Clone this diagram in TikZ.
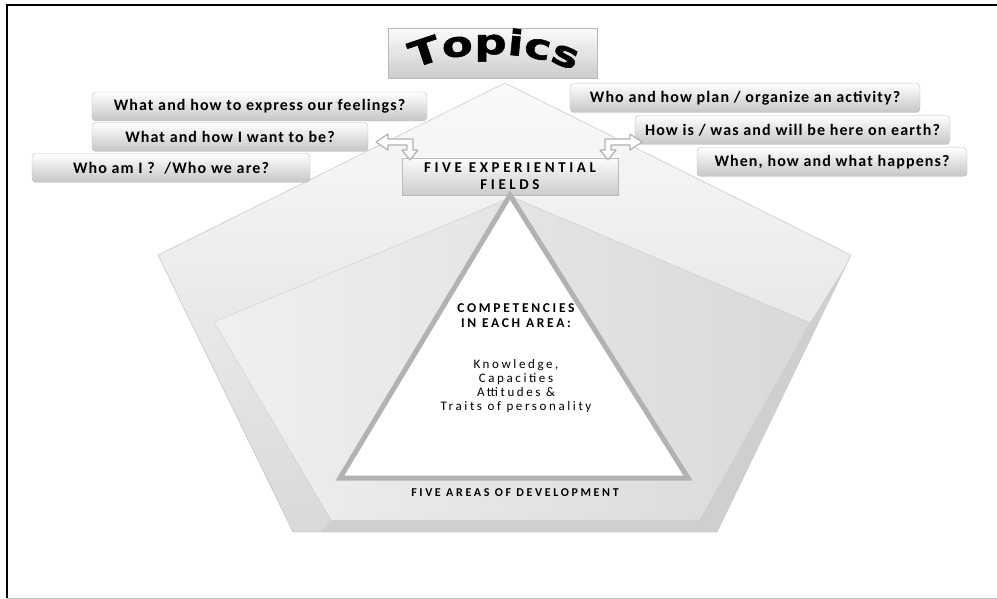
\documentclass[tikz,border=0pt]{standalone}
\usepackage{fontspec}
\setmainfont{Carlito}
\newfontfamily\topicsfont[FakeStretch=1.3, FakeBold=1.5]{DejaVu Sans}
\usetikzlibrary{positioning,decorations.text}

\tikzset{bentarrow/.pic={
	\draw[gray!60, fill=white, line width=1.2pt, line join=round] (-34,0) -- (-22,-8) -- (-22,-3) -- (3,-3) -- (3,8) -- (8,8) -- (0,18) -- (-8,8) -- (-3,8) -- (-3,3) -- (-22,3) -- (-22,8) -- cycle;
}}

\begin{document}
\begin{tikzpicture}[x=1pt, y=-1pt,
	qbox/.style={draw=gray!55, rounded corners=4pt, top color=white, bottom color=gray!45, minimum height=29pt, inner sep=0pt, font=\fontsize{16}{16}\selectfont\bfseries\addfontfeatures{LetterSpace=7}},
	hbox/.style={draw=gray!55, top color=gray!3, bottom color=gray!40, inner sep=0pt}]
	\useasboundingbox (0,0) rectangle (997,599);
	\draw[line width=1.5pt] (7,598) -- (7,5) -- (997,5);
	\draw[gray!50] (7,598) -- (997,598);
	
	% the pentagon
	\draw[gray!55, top color=gray!4, bottom color=gray!30] (505,83) -- (851,255) -- (717,532) -- (293,532) -- (158,255) -- cycle;
	\fill[gray!38] (810,323) -- (848,262) -- (717,532) -- (320,532) -- (331,520) -- (700,520) -- cycle;
	\draw[gray!40, left color=gray!12, right color=gray!30] (512,197) -- (810,323) -- (700,520) -- (331,520) -- (214,322) -- cycle;
	
	\node[hbox, minimum width=209pt, minimum height=50pt](topics) at (492.5,53) {};
	\path[decorate, decoration={text along path, text align=center,
		text={|\fontsize{35}{35}\selectfont\topicsfont\bfseries|Topics}}]
		(400,78) .. controls (440,46) and (545,46) .. (588,80);
	
	\node[hbox, minimum width=216pt, minimum height=37pt, align=center, font=\fontsize{15}{17}\selectfont\bfseries\addfontfeatures{LetterSpace=24}](fields) at (510,176.5) {FIVE EXPERIENTIAL\\FIELDS};
	
	\draw[gray!60, fill=white, line width=5pt, line join=miter] (fields.south) -- (688,478) -- (340,478) -- cycle;
	\node[align=center, font=\fontsize{13.5}{15}\selectfont\bfseries\addfontfeatures{LetterSpace=20}](comp) at (516,315.5) {COMPETENCIES\\IN EACH AREA:};
	\node[align=center, font=\fontsize{13}{14}\selectfont\addfontfeatures{LetterSpace=20}](traits) at (516,386) {Knowledge,\\Capacities\\Attitudes \&\\Traits of personality};
	\node[font=\fontsize{12}{12}\selectfont\bfseries\addfontfeatures{LetterSpace=22}](areas) at (515,493) {FIVE AREAS OF DEVELOPMENT};
	
	% left questions
	\node[qbox, minimum width=335pt](feel) at (259.5,106.5) {What and how to express our feelings?};
	\node[qbox, minimum width=276pt](want) at (230,137) {What and how I want to be?};
	\node[qbox, minimum width=278pt](whoami) at (171,168) {Who am I ?\ \ /Who we are?};
	
	% right questions
	\node[qbox, minimum width=350pt](plan) at (745,98) {Who and how plan / organize an activity?};
	\node[qbox, minimum width=315pt](earth) at (792.5,130) {How is / was and will be here on earth?};
	\node[qbox, minimum width=270pt](happen) at (832,162) {When, how and what happens?};
	
	\pic at (410,142) {bentarrow};
	\pic[xscale=-1] at (608,142) {bentarrow};
\end{tikzpicture}
\end{document}
